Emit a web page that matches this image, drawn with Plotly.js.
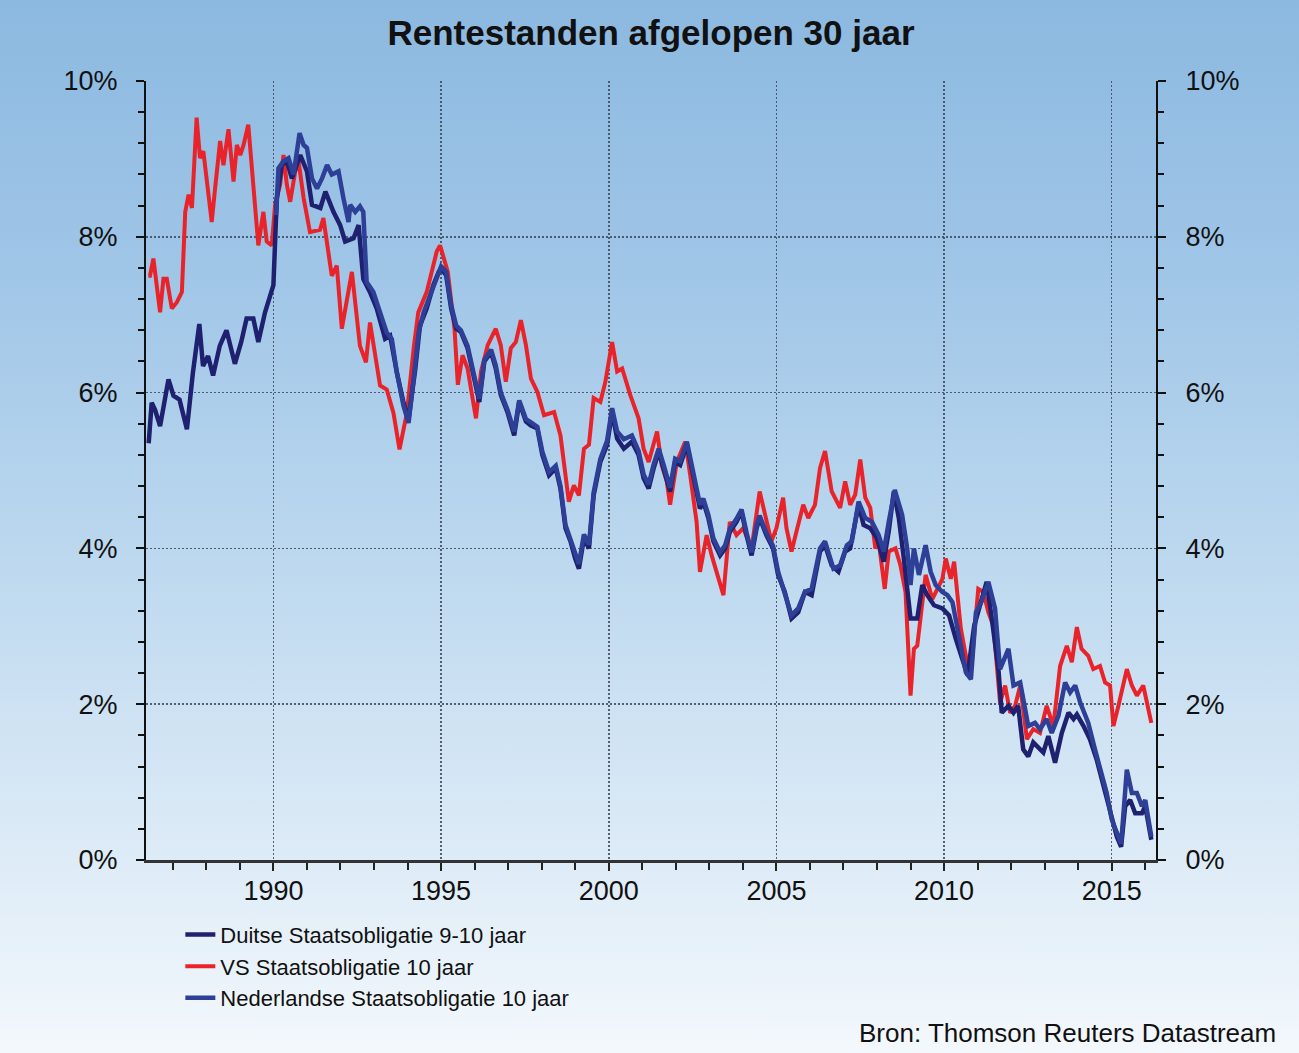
<!DOCTYPE html>
<html>
<head>
<meta charset="utf-8">
<script src="https://cdn.plot.ly/plotly-3.0.1.min.js"></script>
<style>
  html, body { margin: 0; padding: 0; }
  #wrap {
    width: 1299px; height: 1053px;
    background: linear-gradient(to bottom, #8cb9e0 0%, #9fc5e7 25%, #b9d6ee 50%, #d6e7f5 75%, #f3f8fc 100%);
  }
</style>
</head>
<body>
<div id="wrap"><div id="chart"></div></div>
<script>
// ---------- data (decimal years, yield in %) ----------
const deYears = [1986.28,1986.37,1986.47,1986.62,1986.87,1987.02,1987.2,1987.42,1987.6,1987.79,1987.9,1988.05,1988.2,1988.4,1988.6,1988.85,1989.04,1989.2,1989.4,1989.55,1989.75,1989.9,1990.0,1990.1,1990.25,1990.4,1990.55,1990.8,1991.0,1991.15,1991.4,1991.55,1991.79,1991.99,1992.14,1992.39,1992.54,1992.68,1992.88,1993.08,1993.33,1993.48,1993.68,1993.88,1994.03,1994.23,1994.37,1994.57,1994.77,1994.93,
1995.0,1995.15,1995.3,1995.45,1995.59,1995.79,1995.99,1996.14,1996.29,1996.49,1996.63,1996.78,1996.98,1997.18,1997.33,1997.53,1997.67,1997.87,1998.02,1998.22,1998.42,1998.56,1998.71,1998.86,1999.0,1999.11,1999.26,1999.41,1999.55,1999.75,1999.95,2000.1,2000.25,2000.45,2000.69,2000.89,2001.04,2001.19,2001.34,2001.49,2001.63,2001.83,2001.98,2002.13,2002.33,2002.52,2002.72,2002.82,2002.97,2003.12,2003.32,2003.47,2003.61,2003.81,2003.96,2004.11,2004.26,2004.41,2004.5,2004.7,2004.9,
2005.05,2005.25,2005.45,2005.65,2005.85,2006.05,2006.3,2006.45,2006.65,2006.85,2007.05,2007.2,2007.45,2007.6,2007.8,2008.0,2008.2,2008.35,2008.5,2008.65,2008.8,2009.0,2009.2,2009.35,2009.5,2009.7,2009.95,2010.15,2010.35,2010.55,2010.7,2010.9,
2011.05,2011.27,2011.45,2011.62,2011.72,2011.92,2012.07,2012.21,2012.36,2012.51,2012.66,2012.86,2012.96,2013.11,2013.31,2013.51,2013.71,2013.86,2013.96,2014.16,2014.35,2014.55,2014.7,2014.85,2015.0,2015.15,2015.28,2015.4,2015.55,2015.7,2015.9,2016.0,2016.18];
const deValues = [5.35,5.87,5.78,5.57,6.17,5.96,5.91,5.53,6.26,6.88,6.34,6.47,6.22,6.6,6.8,6.37,6.65,6.95,6.95,6.65,7.03,7.25,7.38,8.49,8.92,8.97,8.75,9.05,8.84,8.41,8.37,8.58,8.32,8.15,7.94,7.98,8.15,7.46,7.29,7.08,6.69,6.73,6.26,5.87,5.66,6.3,6.86,7.08,7.38,7.55,
7.59,7.51,7.08,6.82,6.78,6.57,6.14,5.88,6.4,6.52,6.31,5.97,5.75,5.45,5.88,5.63,5.58,5.54,5.2,4.94,5.03,4.77,4.26,4.09,3.87,3.74,4.13,4.0,4.68,5.11,5.33,5.75,5.41,5.28,5.37,5.2,4.9,4.77,5.03,5.24,5.03,4.73,5.11,5.07,5.33,4.94,4.51,4.6,4.39,4.09,3.91,4.0,4.21,4.34,4.47,4.17,3.91,4.26,4.39,4.17,4.0,
3.66,3.44,3.1,3.18,3.44,3.4,3.96,4.04,3.78,3.7,3.96,4.0,4.56,4.3,4.26,4.13,3.83,4.22,4.73,4.39,3.87,3.1,3.1,3.53,3.4,3.27,3.23,3.14,2.84,2.58,2.37,3.01,
3.23,3.57,3.01,2.45,1.89,1.98,1.89,1.98,1.42,1.33,1.51,1.42,1.38,1.59,1.25,1.63,1.89,1.81,1.87,1.72,1.55,1.29,1.03,0.82,0.52,0.3,0.17,0.69,0.77,0.6,0.6,0.69,0.26];

const usYears = [1986.27,1986.32,1986.42,1986.52,1986.62,1986.72,1986.82,1986.97,1987.12,1987.27,1987.37,1987.47,1987.57,1987.71,1987.81,1987.91,1988.01,1988.16,1988.26,1988.41,1988.51,1988.66,1988.81,1988.91,1989.01,1989.11,1989.25,1989.4,1989.55,1989.7,1989.8,1989.95,1990.05,1990.2,1990.3,1990.4,1990.5,1990.65,1990.75,1990.9,1991.09,1991.39,1991.49,1991.74,1991.89,1992.04,1992.34,1992.58,1992.76,1992.88,1993.18,1993.38,1993.58,1993.76,1993.98,1994.19,1994.32,1994.57,1994.87,1994.97,
1995.2,1995.4,1995.5,1995.64,1995.79,1996.04,1996.19,1996.39,1996.63,1996.78,1996.93,1997.08,1997.23,1997.38,1997.53,1997.68,1997.87,1998.07,1998.37,1998.56,1998.81,1998.96,1999.11,1999.26,1999.41,1999.55,1999.75,1999.9,2000.1,2000.25,2000.4,2000.64,2000.89,2001.04,2001.19,2001.44,2001.58,2001.73,2001.83,2002.03,2002.28,2002.43,2002.62,2002.72,2002.92,2003.07,2003.22,2003.42,2003.61,2003.81,2004.01,2004.26,2004.5,2004.7,2004.85,2005.0,
2005.2,2005.3,2005.45,2005.6,2005.8,2005.95,2006.15,2006.3,2006.45,2006.65,2006.9,2007.05,2007.2,2007.35,2007.5,2007.65,2007.8,2007.95,2008.05,2008.23,2008.35,2008.55,2008.7,2008.85,2009.0,2009.1,2009.2,2009.45,2009.65,2009.95,2010.05,2010.2,2010.3,2010.5,2010.65,2010.8,
2011.02,2011.17,2011.32,2011.47,2011.67,2011.82,2011.97,2012.12,2012.27,2012.47,2012.66,2012.86,2013.06,2013.26,2013.46,2013.66,2013.81,2013.96,2014.1,2014.3,2014.45,2014.65,2014.8,2014.95,2015.05,2015.2,2015.45,2015.6,2015.75,2015.94,2016.04,2016.18];
const usValues = [7.5,7.5,7.72,7.42,7.03,7.46,7.46,7.08,7.16,7.29,8.32,8.54,8.37,9.53,9.01,9.1,8.75,8.19,8.62,9.23,8.92,9.38,8.71,9.18,9.05,9.18,9.44,8.67,7.89,8.32,7.94,7.89,8.41,8.67,9.05,8.67,8.45,8.84,8.97,8.5,8.06,8.09,8.24,7.5,7.63,6.82,7.55,6.6,6.39,6.9,6.09,6.04,5.74,5.27,5.74,6.6,7.03,7.29,7.81,7.89,
7.55,6.82,6.1,6.48,6.31,5.67,6.27,6.61,6.82,6.61,6.14,6.57,6.65,6.93,6.61,6.18,6.01,5.71,5.75,5.45,4.6,4.81,4.68,5.28,5.33,5.93,5.88,6.14,6.65,6.27,6.31,5.97,5.67,5.28,5.11,5.5,5.07,4.86,4.56,5.11,5.37,4.94,4.34,3.7,4.17,3.91,3.7,3.4,4.34,4.17,4.26,4.0,4.73,4.39,4.09,4.26,
4.65,4.26,3.96,4.22,4.56,4.39,4.56,5.03,5.25,4.73,4.52,4.86,4.56,4.69,5.14,4.65,4.52,4.0,4.09,3.48,3.96,4.0,3.78,3.44,2.11,2.71,2.75,3.66,3.35,3.61,3.87,3.61,3.83,2.97,2.62,2.41,
3.48,3.44,3.18,3.01,2.02,2.24,1.89,1.98,2.24,1.55,1.68,1.63,1.98,1.72,2.49,2.75,2.54,2.99,2.71,2.62,2.45,2.49,2.28,2.24,1.72,1.98,2.45,2.24,2.11,2.24,2.06,1.76];

const nlYears = [1990.08,1990.15,1990.3,1990.45,1990.6,1990.78,1990.9,1991.0,1991.15,1991.3,1991.45,1991.6,1991.74,1991.94,1992.09,1992.24,1992.29,1992.44,1992.58,1992.68,1992.78,1992.98,1993.18,1993.38,1993.53,1993.68,1993.88,1994.03,1994.18,1994.33,1994.48,1994.67,1994.87,1995.0,
1995.15,1995.3,1995.45,1995.59,1995.79,1995.99,1996.14,1996.29,1996.49,1996.63,1996.78,1996.98,1997.18,1997.33,1997.53,1997.67,1997.87,1998.02,1998.22,1998.42,1998.56,1998.71,1998.86,1999.0,1999.11,1999.26,1999.41,1999.55,1999.75,1999.95,2000.1,2000.25,2000.45,2000.69,2000.89,2001.04,2001.19,2001.34,2001.49,2001.63,2001.83,2001.98,2002.13,2002.33,2002.52,2002.72,2002.82,2002.97,2003.12,2003.32,2003.47,2003.61,2003.81,2003.96,2004.11,2004.26,2004.41,2004.5,2004.7,2004.9,
2005.05,2005.25,2005.45,2005.65,2005.85,2006.05,2006.3,2006.45,2006.7,2006.9,2007.1,2007.25,2007.45,2007.65,2007.85,2008.05,2008.2,2008.35,2008.53,2008.75,2008.9,2009.0,2009.1,2009.25,2009.45,2009.6,2009.75,2009.95,2010.1,2010.25,2010.45,2010.65,2010.8,2010.95,
2011.1,2011.32,2011.52,2011.67,2011.92,2012.07,2012.27,2012.42,2012.51,2012.71,2012.86,2013.06,2013.21,2013.41,2013.61,2013.76,2013.91,2014.06,2014.3,2014.5,2014.7,2014.85,2015.0,2015.15,2015.28,2015.45,2015.6,2015.75,2015.9,2016.0,2016.18];
const nlValues = [8.28,8.88,8.97,9.01,8.8,9.33,9.18,9.14,8.75,8.62,8.75,8.92,8.8,8.84,8.49,8.19,8.41,8.32,8.39,8.32,7.42,7.29,7.03,6.77,6.69,6.26,5.83,5.61,6.17,6.77,7.03,7.25,7.5,7.62,
7.55,7.12,6.86,6.8,6.6,6.18,5.92,6.42,6.55,6.35,6.0,5.78,5.5,5.9,5.66,5.62,5.56,5.24,4.98,5.06,4.8,4.3,4.12,3.92,3.8,4.18,4.05,4.72,5.15,5.38,5.8,5.5,5.4,5.45,5.25,4.95,4.82,5.08,5.28,5.08,4.78,5.15,5.12,5.37,4.98,4.56,4.64,4.43,4.13,3.95,4.04,4.25,4.38,4.5,4.2,3.95,4.3,4.42,4.2,4.03,
3.7,3.44,3.14,3.23,3.44,3.48,4.0,4.09,3.74,3.78,4.04,4.09,4.6,4.39,4.34,4.17,3.96,4.34,4.75,4.43,4.0,3.53,4.0,3.66,4.04,3.7,3.53,3.44,3.4,3.31,2.84,2.41,2.32,3.18,
3.3,3.57,3.23,2.45,2.71,2.24,2.28,1.94,1.72,1.76,1.68,1.81,1.63,1.85,2.28,2.15,2.24,2.02,1.76,1.42,1.12,0.86,0.52,0.34,0.21,1.16,0.86,0.86,0.69,0.77,0.3];

const seriesNames = ['Duitse Staatsobligatie 9-10 jaar', 'VS Staatsobligatie 10 jaar', 'Nederlandse Staatsobligatie 10 jaar'];
const yTicks = [0, 2, 4, 6, 8, 10];
const xTicks = [1990, 1995, 2000, 2005, 2010, 2015];
const titleText = 'Rentestanden afgelopen 30 jaar';
const sourceText = 'Bron: Thomson Reuters Datastream';

// ---------- chart ----------
const FONT = '"Liberation Sans", Arial, sans-serif';
const gridStyle = { showgrid: true, gridcolor: 'rgba(60,72,90,0.85)', gridwidth: 1.5, griddash: '2px,2px' };

const traces = [
  { x: usYears, y: usValues, name: seriesNames[1], type: 'scatter', mode: 'lines',
    line: { color: '#e8242a', width: 4 }, legendrank: 2 },
  { x: deYears, y: deValues, name: seriesNames[0], type: 'scatter', mode: 'lines',
    line: { color: '#1f2170', width: 4.5 }, legendrank: 1 },
  { x: nlYears, y: nlValues, name: seriesNames[2], type: 'scatter', mode: 'lines',
    line: { color: '#2d3f96', width: 4.5 }, legendrank: 3 },
  { x: [], y: [], yaxis: 'y2', type: 'scatter', mode: 'lines', showlegend: false, hoverinfo: 'skip' }
];

const yCommon = {
  range: [0, 10], tickvals: yTicks, ticktext: yTicks.map(v => v + '%'),
  ticks: 'outside', ticklen: 8, tickwidth: 2, tickcolor: '#111',
  showline: true, linecolor: '#111', linewidth: 2, zeroline: false,
  tickfont: { family: FONT, size: 27, color: '#111' },
  minor: { dtick: 0.4, tick0: 0, ticks: 'outside', ticklen: 6, tickwidth: 2, tickcolor: '#111', showgrid: false },
  fixedrange: true
};

const layout = {
  width: 1299, height: 1053,
  margin: { l: 146, r: 143, t: 81, b: 193, pad: 0 },
  paper_bgcolor: 'rgba(0,0,0,0)', plot_bgcolor: 'rgba(0,0,0,0)',
  title: { text: titleText, x: 0.5, xanchor: 'center', xref: 'paper', y: 1 - 33 / 1053, yanchor: 'middle', yref: 'container',
           font: { family: FONT, size: 35, color: '#111', weight: 'bold' } },
  xaxis: Object.assign({}, gridStyle, {
    range: [1986.2, 2016.32], tickvals: xTicks, ticktext: xTicks.map(String),
    ticks: 'outside', ticklen: 8, tickwidth: 2, tickcolor: '#222',
    showline: true, linecolor: '#333', linewidth: 3, zeroline: false,
    tickfont: { family: FONT, size: 27, color: '#111' }, ticklabelstandoff: -3,
    minor: { dtick: 1, tick0: 1990, ticks: 'outside', ticklen: 7, tickwidth: 2, tickcolor: '#222', showgrid: false },
    fixedrange: true
  }),
  yaxis: Object.assign({}, gridStyle, yCommon, { side: 'left', ticklabelstandoff: 13 }),
  yaxis2: Object.assign({}, yCommon, { overlaying: 'y', side: 'right', showgrid: false, ticklabelstandoff: 14 }),
  showlegend: true,
  legend: {
    orientation: 'v', x: 0.034, xanchor: 'left', y: -0.069, yanchor: 'top',
    bgcolor: 'rgba(0,0,0,0)', borderwidth: 0, tracegroupgap: 0,
    font: { family: FONT, size: 22, color: '#111' }
  },
  annotations: [{
    text: sourceText, xref: 'paper', yref: 'paper', x: 1.1208, y: -0.222,
    xanchor: 'right', yanchor: 'middle', showarrow: false,
    font: { family: FONT, size: 26, color: '#111' }
  }]
};

Plotly.newPlot('chart', traces, layout, { displayModeBar: false, staticPlot: true });
</script>
</body>
</html>
